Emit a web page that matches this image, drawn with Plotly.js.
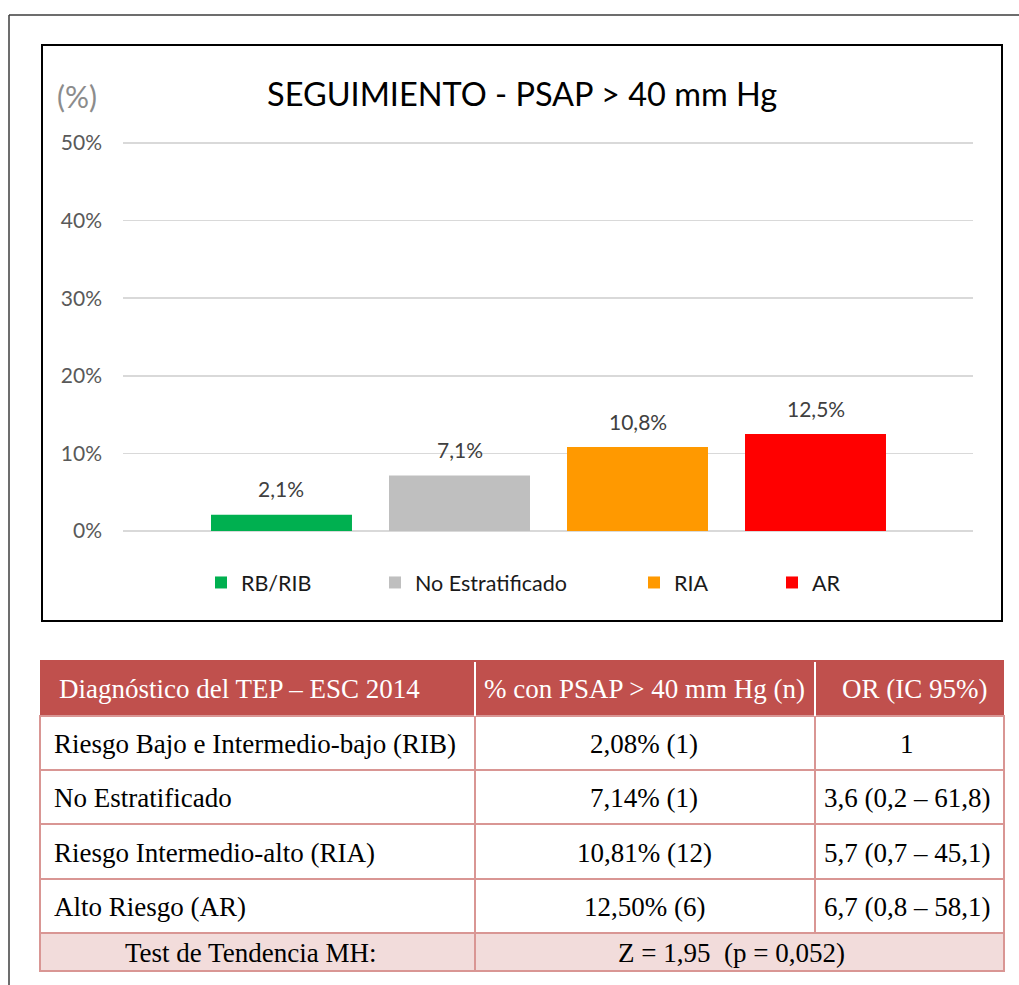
<!DOCTYPE html>
<html>
<head>
<meta charset="utf-8">
<script src="https://cdn.plot.ly/plotly-3.0.1.min.js"></script>
<style>
  html, body { margin: 0; padding: 0; background: #ffffff; }
  #chart { width: 1019px; height: 985px; }
</style>
</head>
<body>
<div id="chart"></div>
<script>
// ---------------- DATA ----------------
const chartTitle = 'SEGUIMIENTO - PSAP > 40 mm Hg';
const yUnitLabel = '(%)';
const seriesNames = ['RB/RIB', 'No Estratificado', 'RIA', 'AR'];
const seriesValues = [2.08, 7.14, 10.81, 12.50];
const seriesColors = ['#00B050', '#BFBFBF', '#FF9900', '#FF0000'];
const yTickValues = [0, 10, 20, 30, 40, 50];
const yTickLabels = ['0%', '10%', '20%', '30%', '40%', '50%'];

const tableHeader = ['Diagnóstico del TEP – ESC 2014', '% con PSAP > 40 mm Hg (n)', 'OR (IC 95%)'];
const tableRowLabels = ['Riesgo Bajo e Intermedio-bajo (RIB)', 'No Estratificado', 'Riesgo Intermedio-alto (RIA)', 'Alto Riesgo (AR)'];
const tablePct = ['2,08% (1)', '7,14% (1)', '10,81% (12)', '12,50% (6)'];
const tableOR = ['1', '3,6 (0,2 – 61,8)', '5,7 (0,7 – 45,1)', '6,7 (0,8 – 58,1)'];
const footerLabel = 'Test de Tendencia MH:';
const footerValue = 'Z = 1,95\u00a0\u00a0(p = 0,052)';

// ---------------- GEOMETRY HELPERS ----------------
const W = 1019, H = 985;
const px = x => x / W;
const py = y => 1 - y / H;

const SANS = 'Lato, "Open Sans", sans-serif';
const SERIF = '"Liberation Serif", "DejaVu Serif", serif';

// bar traces: one per series, each with its own legend
const legendKeys = ['legend', 'legend2', 'legend3', 'legend4'];
const legendTextX = [242, 416, 675, 813];
const traces = seriesNames.map((name, i) => ({
  type: 'bar',
  name: name,
  x: [name],
  y: [seriesValues[i]],
  width: 0.792,
  marker: { color: seriesColors[i], line: { width: 0 } },
  legend: legendKeys[i],
  hoverinfo: 'skip'
}));

// plot area pixels
const plotL = 123, plotR = 973;
const y0px = 531, pxPerUnit = 7.76;
const yMin = -1, yMax = 51;
const yBottomPx = y0px - yMin * pxPerUnit;
const yTopPx = y0px - yMax * pxPerUnit;

const annotations = [];
// data labels
seriesNames.forEach((name, i) => {
  annotations.push({
    xref: 'x', yref: 'y', x: name, y: seriesValues[i],
    text: seriesValues[i].toFixed(1).replace('.', ',') + '%',
    showarrow: false, yanchor: 'middle', yshift: 26,
    font: { family: SANS, size: 21, color: '#404040' }
  });
});
// title & unit
annotations.push({
  xref: 'paper', yref: 'paper', x: px(522), y: py(93),
  text: chartTitle, showarrow: false, xanchor: 'center', yanchor: 'middle',
  font: { family: SANS, size: 32.5, color: '#000000' }
});
annotations.push({
  xref: 'paper', yref: 'paper', x: px(77), y: py(96),
  text: yUnitLabel, showarrow: false, xanchor: 'center', yanchor: 'middle',
  font: { family: SANS, size: 30, color: '#8C8C8C' }
});

// table geometry
const colX = [40, 475, 815, 1004];
const headTop = 660, headBot = 716;
const rowY = [716, 770, 824, 879, 933];
const footBot = 971;
const BORDER = '#D99694';

const shapes = [];
// outer frame
shapes.push({ type: 'line', xref: 'paper', yref: 'paper', x0: px(9), y0: py(15), x1: px(1019), y1: py(15), line: { color: '#3C3C3C', width: 1.5 } });
shapes.push({ type: 'line', xref: 'paper', yref: 'paper', x0: px(9), y0: py(15), x1: px(9), y1: py(985), line: { color: '#3C3C3C', width: 1.5 } });
// chart box
shapes.push({ type: 'rect', xref: 'paper', yref: 'paper', x0: px(42), y0: py(45), x1: px(1002), y1: py(621), line: { color: '#000000', width: 2 }, fillcolor: 'rgba(0,0,0,0)' });
// table header
shapes.push({ type: 'rect', xref: 'paper', yref: 'paper', x0: px(colX[0]), y0: py(headTop), x1: px(colX[3]), y1: py(headBot), line: { width: 0 }, fillcolor: '#C0504D' });
// footer fill
shapes.push({ type: 'rect', xref: 'paper', yref: 'paper', x0: px(colX[0]), y0: py(rowY[4]), x1: px(colX[3]), y1: py(footBot), line: { width: 0 }, fillcolor: '#F2DCDB' });
// body border
shapes.push({ type: 'rect', xref: 'paper', yref: 'paper', x0: px(colX[0]), y0: py(headBot), x1: px(colX[3]), y1: py(footBot), line: { color: BORDER, width: 2 }, fillcolor: 'rgba(0,0,0,0)' });
// horizontal row lines
rowY.slice(1).forEach(y => {
  shapes.push({ type: 'line', xref: 'paper', yref: 'paper', x0: px(colX[0]), y0: py(y), x1: px(colX[3]), y1: py(y), line: { color: BORDER, width: 2 } });
});
// vertical lines
shapes.push({ type: 'line', xref: 'paper', yref: 'paper', x0: px(colX[1]), y0: py(headBot), x1: px(colX[1]), y1: py(footBot), line: { color: BORDER, width: 2 } });
shapes.push({ type: 'line', xref: 'paper', yref: 'paper', x0: px(colX[2]), y0: py(headBot), x1: px(colX[2]), y1: py(rowY[4]), line: { color: BORDER, width: 2 } });
// header white separators
[colX[1], colX[2]].forEach(x => {
  shapes.push({ type: 'line', xref: 'paper', yref: 'paper', x0: px(x), y0: py(headTop + 2), x1: px(x), y1: py(headBot), line: { color: '#FFFFFF', width: 2 } });
});

// table text
const tFont = (c) => ({ family: SERIF, size: 27, color: c });
const midY = (a, b) => py((a + b) / 2 + 1);
annotations.push({ xref: 'paper', yref: 'paper', x: px(57), y: midY(headTop, headBot), text: tableHeader[0], showarrow: false, xanchor: 'left', yanchor: 'middle', font: tFont('#FFFFFF') });
annotations.push({ xref: 'paper', yref: 'paper', x: px(644), y: midY(headTop, headBot), text: tableHeader[1], showarrow: false, xanchor: 'center', yanchor: 'middle', font: tFont('#FFFFFF') });
annotations.push({ xref: 'paper', yref: 'paper', x: px(914), y: midY(headTop, headBot), text: tableHeader[2], showarrow: false, xanchor: 'center', yanchor: 'middle', font: tFont('#FFFFFF') });
tableRowLabels.forEach((lab, r) => {
  const yc = midY(rowY[r], rowY[r + 1]);
  annotations.push({ xref: 'paper', yref: 'paper', x: px(52), y: yc, text: lab, showarrow: false, xanchor: 'left', yanchor: 'middle', font: tFont('#000000') });
  annotations.push({ xref: 'paper', yref: 'paper', x: px(644), y: yc, text: tablePct[r], showarrow: false, xanchor: 'center', yanchor: 'middle', font: tFont('#000000') });
  annotations.push({ xref: 'paper', yref: 'paper', x: px(907), y: yc, text: tableOR[r], showarrow: false, xanchor: 'center', yanchor: 'middle', font: tFont('#000000') });
});
annotations.push({ xref: 'paper', yref: 'paper', x: px(250), y: midY(rowY[4], footBot), text: footerLabel, showarrow: false, xanchor: 'center', yanchor: 'middle', font: tFont('#000000') });
annotations.push({ xref: 'paper', yref: 'paper', x: px(731), y: midY(rowY[4], footBot), text: footerValue, showarrow: false, xanchor: 'center', yanchor: 'middle', font: tFont('#000000') });

// legends
const legendY = 582.5;
const layout = {
  width: W, height: H,
  margin: { l: 0, r: 0, t: 0, b: 0 },
  paper_bgcolor: '#FFFFFF', plot_bgcolor: 'rgba(0,0,0,0)',
  showlegend: true,
  xaxis: {
    domain: [px(plotL), px(plotR)],
    type: 'category',
    range: [-0.8904, 3.8848],
    showticklabels: false, showgrid: false, zeroline: false, showline: false, ticks: '',
    fixedrange: true
  },
  yaxis: {
    domain: [py(yBottomPx), py(yTopPx)],
    range: [yMin, yMax],
    tickmode: 'array',
    tickvals: yTickValues,
    ticktext: yTickLabels,
    showgrid: true, gridcolor: '#D9D9D9', gridwidth: 1.5,
    zeroline: true, zerolinecolor: '#D9D9D9', zerolinewidth: 1.5,
    showline: false, ticks: '',
    ticklabelstandoff: 20,
    tickfont: { family: SANS, size: 21, color: '#595959' },
    fixedrange: true
  },
  shapes: shapes,
  annotations: annotations
};
legendKeys.forEach((k, i) => {
  layout[k] = {
    x: px(legendTextX[i] - 41), y: py(legendY),
    xanchor: 'left', yanchor: 'middle',
    orientation: 'h',
    bgcolor: 'rgba(0,0,0,0)', borderwidth: 0,
    font: { family: SANS, size: 21.5, color: '#1A1A1A' }
  };
});

Plotly.newPlot('chart', traces, layout, { displayModeBar: false, staticPlot: true });
</script>
</body>
</html>
